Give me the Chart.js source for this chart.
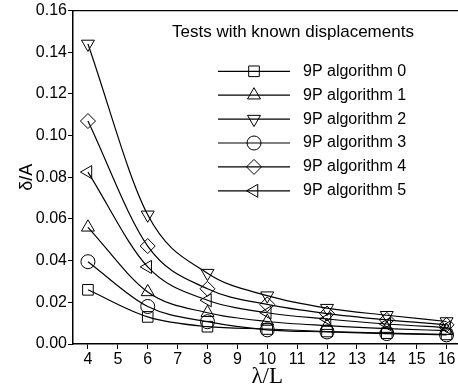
<!DOCTYPE html>
<html lang="en">
<head>
<meta charset="UTF-8">
<title>Tests with known displacements</title>
<script src="https://cdn.jsdelivr.net/npm/chart.js"></script>
<style>
    body {
        margin: 0;
        padding: 0;
        background: #fff;
        overflow: hidden;
    }
    .wrap {
        position: relative;
        width: 470px;
        height: 391px;
    }
</style>
</head>
<body>
<div class="wrap"><canvas id="chart"></canvas></div>
<script>
// data
var lambdas = [4, 6, 8, 10, 12, 14, 16];
var algo0 = [0.026, 0.013, 0.0083, 0.0072, 0.0060, 0.0052, 0.0046];
var algo1 = [0.056, 0.025, 0.015, 0.0108, 0.0088, 0.0074, 0.0064];
var algo2 = [0.144, 0.062, 0.034, 0.0232, 0.0172, 0.0138, 0.0108];
var algo3 = [0.0395, 0.018, 0.0107, 0.0068, 0.0058, 0.0050, 0.0044];
var algo4 = [0.107, 0.047, 0.0265, 0.0190, 0.0146, 0.0116, 0.0092];
var algo5 = [0.0825, 0.037, 0.021, 0.0150, 0.0120, 0.0096, 0.0079];
var seriesNames = ['9P algorithm 0', '9P algorithm 1', '9P algorithm 2',
                   '9P algorithm 3', '9P algorithm 4', '9P algorithm 5'];
var legendTitle = 'Tests with known displacements';
var xTicks = [4, 5, 6, 7, 8, 9, 10, 11, 12, 13, 14, 15, 16];
var yTicks = [0, 0.02, 0.04, 0.06, 0.08, 0.10, 0.12, 0.14, 0.16];

var markers = [
    {style: 'rect', radius: 7.5, rot: 0},
    {style: 'triangle', radius: 7.5, rot: 0},
    {style: 'triangle', radius: 7.5, rot: 180},
    {style: 'circle', radius: 7, rot: 0},
    {style: 'rectRot', radius: 7.5, rot: 0},
    {style: 'triangle', radius: 7.5, rot: 270}
];

function makeSet(i, values) {
    return {
        label: seriesNames[i],
        data: lambdas.map(function(x, k) { return {x: x, y: values[k]}; }),
        borderColor: '#000',
        borderWidth: 1.2,
        cubicInterpolationMode: 'monotone',
        pointStyle: markers[i].style,
        pointRadius: markers[i].radius,
        pointRotation: markers[i].rot,
        pointBorderColor: '#000',
        pointBorderWidth: 1,
        pointBackgroundColor: 'rgba(0,0,0,0)',
        fill: false
    };
}

// top/right frame lines
var framePlugin = {
    id: 'frame',
    afterDraw: function(chart) {
        var a = chart.chartArea, ctx = chart.ctx;
        ctx.save();
        ctx.strokeStyle = '#000';
        ctx.lineWidth = 1.3;
        ctx.beginPath();
        ctx.moveTo(a.left, a.top);
        ctx.lineTo(a.right, a.top);
        ctx.lineTo(a.right, a.bottom);
        ctx.stroke();
        ctx.restore();
    }
};

// legend drawn inside the plot, line through marker like the original
var legendPlugin = {
    id: 'insetLegend',
    afterDraw: function(chart) {
        var ctx = chart.ctx, a = chart.chartArea;
        ctx.save();
        ctx.fillStyle = '#000';
        ctx.textBaseline = 'middle';
        ctx.font = '17px "Liberation Sans", Arial, sans-serif';
        ctx.fillText(legendTitle, a.left + 99, a.top + 22);
        chart.data.datasets.forEach(function(ds, i) {
            var y = a.top + 60.7 + i * 23.9;
            ctx.strokeStyle = '#000';
            ctx.lineWidth = 1.2;
            ctx.beginPath();
            ctx.moveTo(a.left + 145, y);
            ctx.lineTo(a.left + 217, y);
            ctx.stroke();
            ctx.lineWidth = 1;
            ctx.fillStyle = 'rgba(0,0,0,0)';
            Chart.helpers.drawPoint(ctx, {
                pointStyle: ds.pointStyle,
                radius: ds.pointRadius,
                rotation: ds.pointRotation,
                borderWidth: 1
            }, a.left + 181, y);
            ctx.fillStyle = '#000';
            ctx.font = '16px "Liberation Sans", Arial, sans-serif';
            ctx.fillText(ds.label, a.left + 230, y);
        });
        ctx.restore();
    }
};

var ctx = document.getElementById('chart').getContext('2d');
new Chart(ctx, {
    type: 'line',
    data: {
        datasets: [
            makeSet(0, algo0), makeSet(1, algo1), makeSet(2, algo2),
            makeSet(3, algo3), makeSet(4, algo4), makeSet(5, algo5)
        ]
    },
    options: {
        responsive: true,
        maintainAspectRatio: false,
        animation: false,
        layout: {padding: {top: 10, right: 0, left: 0, bottom: 0}},
        plugins: {
            legend: {display: false},
            tooltip: {enabled: false}
        },
        scales: {
            x: {
                type: 'linear',
                min: 3.5,
                max: 16.5,
                afterBuildTicks: function(s) { s.ticks = xTicks.map(function(v) { return {value: v}; }); },
                afterFit: function(s) { s.height = 47; },
                grid: {drawOnChartArea: false, tickLength: 5, color: '#000', lineWidth: 1},
                border: {color: '#000', width: 1.5},
                ticks: {
                    color: '#000',
                    padding: 1,
                    maxRotation: 0,
                    autoSkip: false,
                    font: {family: '"Liberation Sans", Arial, sans-serif', size: 16}
                },
                title: {
                    display: true,
                    text: 'λ/L',
                    color: '#000',
                    font: {family: '"Liberation Serif", "Times New Roman", serif', size: 23},
                    padding: {top: 0, bottom: 0}
                }
            },
            y: {
                min: 0,
                max: 0.16,
                afterBuildTicks: function(s) { s.ticks = yTicks.map(function(v) { return {value: v}; }); },
                afterFit: function(s) { s.width = 73; },
                grid: {drawOnChartArea: false, tickLength: 5, color: '#000', lineWidth: 1},
                border: {color: '#000', width: 1.5},
                ticks: {
                    color: '#000',
                    padding: 1,
                    autoSkip: false,
                    callback: function(v) { return v.toFixed(2); },
                    font: {family: '"Liberation Sans", Arial, sans-serif', size: 16}
                },
                title: {
                    display: true,
                    text: 'δ/A',
                    color: '#000',
                    font: {family: '"Liberation Sans", Arial, sans-serif', size: 18},
                    padding: {top: 16, bottom: 0}
                }
            }
        }
    },
    plugins: [framePlugin, legendPlugin]
});
</script>
</body>
</html>
